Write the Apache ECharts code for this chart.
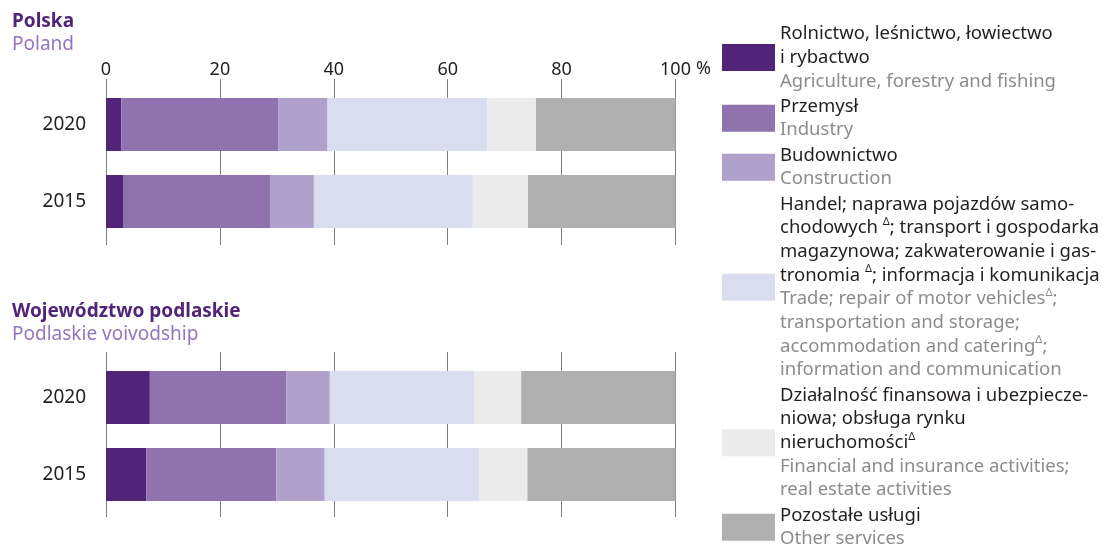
<!DOCTYPE html>
<html>
<head>
<meta charset="utf-8">
<script src="https://cdn.jsdelivr.net/npm/echarts@6/dist/echarts.min.js"></script>
<style>html,body{margin:0;padding:0;background:#fff;}#c{width:1105px;height:547px;}</style>
</head>
<body>
<div id="c"></div>
<script>
// ---- data ----
const years = ['2020', '2015'];
const sectorKeys = ['Rolnictwo', 'Przemysł', 'Budownictwo', 'Handel', 'Finanse', 'Pozostałe'];
const polandAgri = [2.7, 3.1];
const polandIndustry = [27.6, 25.7];
const polandConstruction = [8.6, 7.7];
const polandTrade = [28.0, 27.9];
const polandFinance = [8.6, 9.7];
const polandOther = [24.5, 25.9];
const podlaskieAgri = [7.7, 7.1];
const podlaskieIndustry = [24.0, 22.8];
const podlaskieConstruction = [7.6, 8.5];
const podlaskieTrade = [25.4, 27.1];
const podlaskieFinance = [8.2, 8.5];
const podlaskieOther = [27.1, 26.0];
const xTicks = [0, 20, 40, 60, 80, 100];
const sectorColors = ['#51247a', '#8f72ae', '#b0a0cc', '#dadcf0', '#ebebeb', '#b0b0b0'];
const legendPl = [
  'Rolnictwo, leśnictwo, łowiectwo\ni rybactwo',
  'Przemysł',
  'Budownictwo',
  'Handel; naprawa pojazdów samo-\nchodowych ^; transport i gospodarka\nmagazynowa; zakwaterowanie i gas-\ntronomia ^; informacja i komunikacja',
  'Działalność finansowa i ubezpiecze-\nniowa; obsługa rynku\nnieruchomości^',
  'Pozostałe usługi'
];
const legendEn = [
  'Agriculture, forestry and fishing',
  'Industry',
  'Construction',
  'Trade; repair of motor vehicles^;\ntransportation and storage;\naccommodation and catering^;\ninformation and communication',
  'Financial and insurance activities;\nreal estate activities',
  'Other services'
];

const polandData = [polandAgri, polandIndustry, polandConstruction, polandTrade, polandFinance, polandOther];
const podlaskieData = [podlaskieAgri, podlaskieIndustry, podlaskieConstruction, podlaskieTrade, podlaskieFinance, podlaskieOther];

const FONT = '"Noto Sans", sans-serif';
const GRID_LINE = '#808080';
const LEG_FS = 18.5;
const LEG_LH = 23.7;

function richBlock(text, style, supStyle) {
  // convert to rich tokens; '^' marks superscript delta
  return text.split('\n').map(line => {
    const parts = line.split('^');
    let out = '';
    parts.forEach((p, i) => {
      if (p.length) out += '{' + style + '|' + p + '}';
      if (i < parts.length - 1) out += '{' + supStyle + '|Δ}';
    });
    return out;
  }).join('\n');
}

function makeXAxis(gridIndex, position, withLabels, tickLen, split) {
  return {
    type: 'value', gridIndex: gridIndex, position: position,
    min: 0, max: 100, interval: 20,
    axisLine: { show: false },
    axisTick: { show: true, length: tickLen, lineStyle: { color: GRID_LINE, width: 1 } },
    axisLabel: {
      show: withLabels, fontFamily: FONT, fontSize: 18, color: '#231f20', margin: 7,
      formatter: v => String(v)
    },
    splitLine: { show: split, lineStyle: { color: GRID_LINE, width: 1 } }
  };
}
function makeYAxis(gridIndex) {
  return {
    type: 'category', gridIndex: gridIndex, data: years, inverse: true,
    axisLine: { show: false }, axisTick: { show: false },
    axisLabel: { fontFamily: FONT, fontSize: 19, color: '#231f20', margin: 20 }
  };
}

const series = [];
[polandData, podlaskieData].forEach((set, gi) => {
  set.forEach((vals, si) => {
    series.push({
      type: 'bar', name: sectorKeys[si], stack: 'g' + gi,
      xAxisIndex: gi * 2, yAxisIndex: gi,
      barWidth: 53, data: vals,
      itemStyle: { color: sectorColors[si] },
      emphasis: { disabled: true }, silent: true
    });
  });
});

const chart = echarts.init(document.getElementById('c'), null, { renderer: 'canvas' });
chart.setOption({
  animation: false,
  backgroundColor: '#ffffff',
  grid: [
    { left: 106, right: 429.5, top: 86, height: 154 },
    { left: 106, right: 429.5, top: 359, height: 154 }
  ],
  xAxis: [
    makeXAxis(0, 'top', true, 7, true),
    makeXAxis(0, 'bottom', false, 5, false),
    makeXAxis(1, 'top', false, 7, true),
    makeXAxis(1, 'bottom', false, 4, false)
  ],
  yAxis: [makeYAxis(0), makeYAxis(1)],
  legend: {
    orient: 'vertical', left: 722, top: 22, bottom: 0, padding: 0, itemGap: 1.5,
    itemWidth: 53, itemHeight: 27, icon: 'rect', selectedMode: false,
    data: sectorKeys,
    formatter: function (name) {
      const i = sectorKeys.indexOf(name);
      return richBlock(legendPl[i], 'pl', 'supPl') + '\n' + richBlock(legendEn[i], 'en', 'supEn');
    },
    textStyle: {
      fontFamily: FONT, fontSize: LEG_FS, color: '#231f20', lineHeight: LEG_LH,
      rich: {
        pl: { fontFamily: FONT, fontSize: LEG_FS, color: '#231f20', lineHeight: LEG_LH },
        en: { fontFamily: FONT, fontSize: LEG_FS, color: '#8c8c8c', lineHeight: LEG_LH },
        supPl: { fontFamily: FONT, fontSize: 11, color: '#231f20', lineHeight: 12, verticalAlign: 'top' },
        supEn: { fontFamily: FONT, fontSize: 11, color: '#8c8c8c', lineHeight: 12, verticalAlign: 'top' }
      }
    }
  },
  graphic: [
    { type: 'text', left: 12, top: 12, style: { text: 'Polska', font: 'bold 19px ' + FONT, fill: '#51247a' } },
    { type: 'text', left: 12, top: 35, style: { text: 'Poland', font: '19px ' + FONT, fill: '#9575bd' } },
    { type: 'text', left: 12, top: 302, style: { text: 'Województwo podlaskie', font: 'bold 19px ' + FONT, fill: '#51247a' } },
    { type: 'text', left: 12, top: 325, style: { text: 'Podlaskie voivodship', font: '19px ' + FONT, fill: '#9575bd' } },
    { type: 'text', left: 696, top: 60, style: { text: '%', font: '18px ' + FONT, fill: '#231f20' } }
  ],
  series: series
});
</script>
</body>
</html>
